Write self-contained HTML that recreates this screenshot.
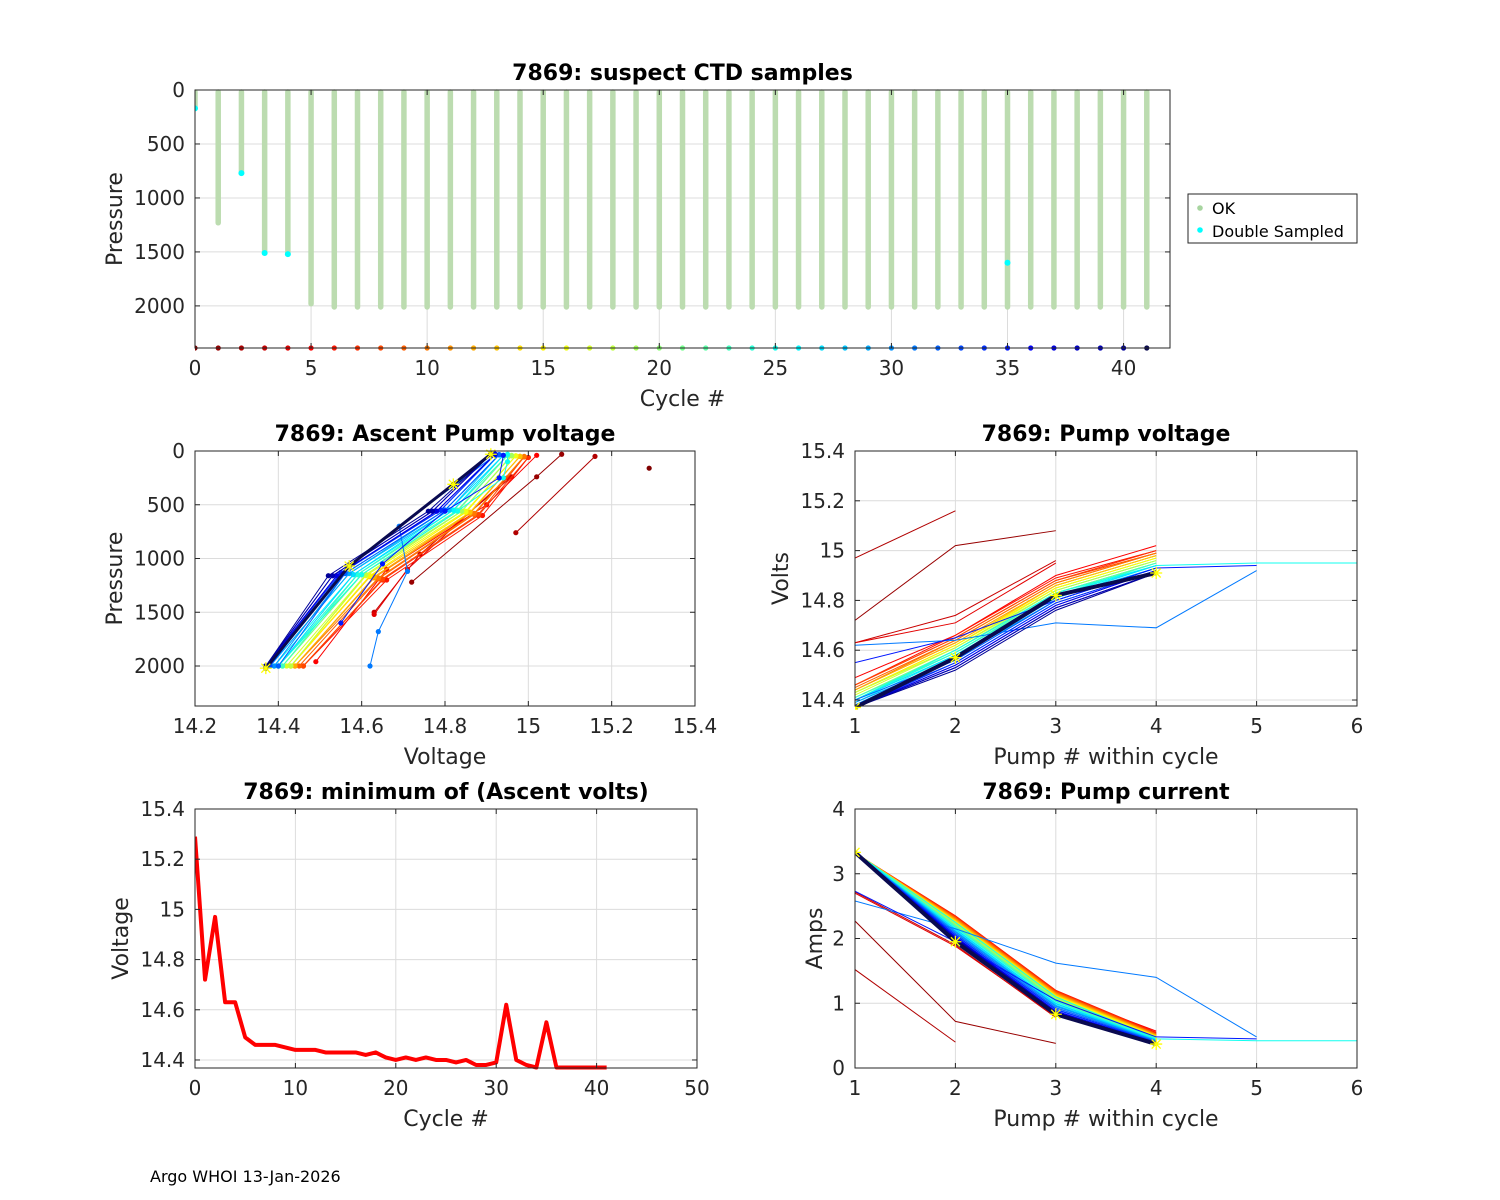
<!DOCTYPE html>
<html><head><meta charset="utf-8"><title>7869 pump diagnostics</title>
<style>
html,body{margin:0;padding:0;background:#fff;}
svg{display:block;font-family:"DejaVu Sans","Liberation Sans",sans-serif;}
.tick{font-size:20px;fill:#262626;}
.lab{font-size:22px;fill:#262626;}
.ttl{font-size:22px;font-weight:bold;fill:#000;}
</style></head>
<body>
<svg id="fig" width="1500" height="1200" viewBox="0 0 1500 1200" xmlns="http://www.w3.org/2000/svg">
<rect width="1500" height="1200" fill="#fff"/>
<text x="150" y="1182" font-size="16" fill="#000">Argo WHOI 13-Jan-2026</text>
</svg>
<script>
// ---- data ----
const cycles = [0,1,2,3,4,5,6,7,8,9,10,11,12,13,14,15,16,17,18,19,20,21,22,23,24,25,26,27,28,29,30,31,32,33,34,35,36,37,38,39,40,41];
const maxPress = [170,1230,770,1510,1520,1980,2010,2010,2010,2010,2010,2010,2010,2010,2010,2010,2010,2010,2010,2010,2010,2010,2010,2010,2010,2010,2010,2010,2010,2010,2010,2010,2010,2010,2010,2010,2010,2010,2010,2010,2010,2010];
const dblCycles = [0,2,3,4,35];
const dblPress = [170,770,1510,1520,1600];
const vols = [
[15.29],
[14.72,15.02,15.08],
[14.97,15.16],
[14.63,14.74,14.96],
[14.63,14.71,14.95],
[14.49,14.66,14.90,15.02],
[14.46,14.66,14.89,15.00],
[14.46,14.65,14.88,15.00],
[14.46,14.65,14.88,14.99],
[14.45,14.64,14.87,14.99],
[14.44,14.64,14.87,14.99],
[14.44,14.63,14.86,14.98],
[14.44,14.63,14.86,14.98],
[14.43,14.62,14.86,14.98],
[14.43,14.62,14.85,14.97],
[14.43,14.62,14.85,14.97],
[14.43,14.61,14.85,14.97],
[14.42,14.61,14.84,14.96],
[14.43,14.61,14.84,14.96],
[14.41,14.60,14.84,14.96],
[14.40,14.60,14.83,14.95],
[14.41,14.60,14.83,14.95],
[14.40,14.59,14.83,14.95],
[14.41,14.59,14.82,14.95],
[14.40,14.59,14.82,14.94],
[14.40,14.60,14.83,14.94,14.95,14.95],
[14.39,14.58,14.82,14.94],
[14.40,14.58,14.81,14.94],
[14.38,14.57,14.81,14.93],
[14.38,14.57,14.80,14.93],
[14.39,14.56,14.80,14.93],
[14.62,14.64,14.71,14.69,14.92],
[14.40,14.56,14.80,14.93],
[14.38,14.55,14.79,14.92],
[14.37,14.55,14.79,14.92],
[14.55,14.65,14.80,14.93,14.94],
[14.37,14.54,14.78,14.92],
[14.37,14.54,14.78,14.92],
[14.37,14.53,14.77,14.91],
[14.37,14.53,14.77,14.91],
[14.37,14.52,14.76,14.91],
[14.37,14.57,14.82,14.91]
];
const press = [
[160],
[1220,240,30],
[760,50],
[1500,960,240],
[1520,1100,250],
[1960,1100,500,40],
[2000,1200,600,60],
[2000,1200,600,60],
[2000,1190,590,55],
[2000,1190,590,55],
[2000,1180,580,50],
[2000,1180,580,50],
[2000,1170,570,50],
[2000,1170,570,50],
[2000,1160,570,45],
[2000,1160,570,45],
[2000,1160,560,45],
[2000,1150,560,45],
[2000,1150,560,45],
[2000,1150,560,40],
[2000,1150,560,40],
[2000,1150,560,40],
[2000,1150,550,40],
[2000,1150,550,40],
[2000,1150,550,40],
[2000,1150,560,250,100,30],
[2000,1150,550,40],
[2000,1150,550,40],
[2000,1140,550,35],
[2000,1140,550,35],
[2000,1140,550,35],
[2000,1680,1120,700,40],
[2000,1140,550,35],
[2000,1140,550,35],
[2000,1130,550,30],
[1600,1050,560,250,40],
[2000,1160,560,30],
[2000,1160,560,30],
[2000,1160,560,30],
[2000,1160,560,30],
[2000,1160,560,30],
[2020,1070,310,30]
];
const amps = [
[3.30],
[2.27,0.72,0.38],
[1.52,0.40],
[2.72,1.90,0.78],
[2.70,1.88,0.80],
[3.30,2.30,1.15,0.57],
[3.32,2.35,1.20,0.55],
[3.32,2.34,1.19,0.54],
[3.32,2.33,1.18,0.53],
[3.32,2.32,1.17,0.52],
[3.32,2.31,1.16,0.52],
[3.33,2.30,1.15,0.51],
[3.33,2.29,1.14,0.50],
[3.33,2.28,1.13,0.50],
[3.33,2.27,1.12,0.49],
[3.33,2.26,1.11,0.49],
[3.33,2.25,1.10,0.48],
[3.33,2.24,1.09,0.48],
[3.33,2.23,1.08,0.47],
[3.33,2.22,1.07,0.47],
[3.33,2.21,1.06,0.46],
[3.33,2.20,1.05,0.46],
[3.33,2.19,1.04,0.45],
[3.33,2.18,1.03,0.45],
[3.33,2.17,1.02,0.44],
[3.33,2.25,1.10,0.45,0.42,0.42],
[3.33,2.15,1.00,0.44],
[3.33,2.14,0.99,0.43],
[3.33,2.12,0.97,0.43],
[3.33,2.11,0.96,0.42],
[3.33,2.10,0.95,0.42],
[2.58,2.15,1.62,1.40,0.48],
[3.33,2.08,0.93,0.41],
[3.33,2.06,0.91,0.40],
[3.33,2.05,0.90,0.40],
[2.73,1.95,1.05,0.48,0.45],
[3.33,2.03,0.88,0.39],
[3.33,2.02,0.87,0.39],
[3.33,2.01,0.86,0.38],
[3.33,2.00,0.86,0.38],
[3.33,1.99,0.85,0.38],
[3.33,1.95,0.83,0.37]
];
const topXTicks = [0,5,10,15,20,25,30,35,40];
const pressTicks = [0,500,1000,1500,2000];
const voltXTicks = [14.2,14.4,14.6,14.8,15,15.2,15.4];
const pumpTicks = [1,2,3,4,5,6];
const voltYTicks = [14.4,14.6,14.8,15,15.2,15.4];
const cycTicks = [0,10,20,30,40,50];
const ampTicks = [0,1,2,3,4];

// ---- helpers ----
const NS = 'http://www.w3.org/2000/svg';
const svg = document.getElementById('fig');
function mk(tag, attrs, parent){
  const e = document.createElementNS(NS, tag);
  for (const k in attrs) e.setAttribute(k, attrs[k]);
  (parent||svg).appendChild(e);
  return e;
}
function jet(t){
  const c = v => Math.max(0, Math.min(1, v));
  const r = c(1.5 - Math.abs(4*t-3)), g = c(1.5 - Math.abs(4*t-2)), b = c(1.5 - Math.abs(4*t-1));
  return 'rgb(' + Math.round(r*255) + ',' + Math.round(g*255) + ',' + Math.round(b*255) + ')';
}
const N = cycles.length;
function colOf(i){ return i === N-1 ? '#0a0a50' : jet(1 - i/(N-1)); }
function fmt(v){ return String(Math.round(v*100)/100); }

let clipId = 0;
function makeAxes(o){
  const g = mk('g', {});
  
  
  const sx = v => o.x0 + (v - o.xd[0]) / (o.xd[1]-o.xd[0]) * (o.x1 - o.x0);
  const sy = o.rev ? (v => o.y0 + (v - o.yd[0]) / (o.yd[1]-o.yd[0]) * (o.y1 - o.y0))
                   : (v => o.y1 - (v - o.yd[0]) / (o.yd[1]-o.yd[0]) * (o.y1 - o.y0));
  const grid = mk('g', {stroke:'#dcdcdc', 'stroke-width':1}, g);
  
  
  o.xt.forEach(v => { const x = sx(v); mk('line', {x1:x, x2:x, y1:o.y0, y2:o.y1}, grid); });
  o.yt.forEach(v => { const y = sy(v); mk('line', {x1:o.x0, x2:o.x1, y1:y, y2:y}, grid); });
  const id = 'clip' + (clipId++);
  const cp = mk('clipPath', {id:id}, g);
  mk('rect', {x:o.x0, y:o.y0-4, width:o.x1-o.x0+2, height:o.y1-o.y0+8}, cp);
  const plot = mk('g', {'clip-path':'url(#'+id+')'}, g);
  
  
  return {g, sx, sy, plot, o};
}
function finishAxes(A){
  const o = A.o, g = A.g, sx = A.sx, sy = A.sy;
  const ax = mk('g', {stroke:'#262626', 'stroke-width':1, fill:'none'}, g);
  
  
  mk('rect', {x:o.x0, y:o.y0, width:o.x1-o.x0, height:o.y1-o.y0}, ax);
  o.xt.forEach(v => { const x = sx(v);
    mk('line', {x1:x, x2:x, y1:o.y1, y2:o.y1-5}, ax);
    mk('line', {x1:x, x2:x, y1:o.y0, y2:o.y0+5}, ax);
    const t = mk('text', {x:x, y:o.y1+27, 'text-anchor':'middle', class:'tick'}, g);
    
    
    t.textContent = fmt(v);
  });
  o.yt.forEach(v => { const y = sy(v);
    mk('line', {x1:o.x0, x2:o.x0+5, y1:y, y2:y}, ax);
    mk('line', {x1:o.x1, x2:o.x1-5, y1:y, y2:y}, ax);
    const t = mk('text', {x:o.x0-10, y:y+7, 'text-anchor':'end', class:'tick'}, g);
    
    
    t.textContent = fmt(v);
  });
  const tt = mk('text', {x:(o.x0+o.x1)/2, y:o.y0-10, 'text-anchor':'middle', class:'ttl'}, g);
  
  
  tt.textContent = o.title;
  const xl = mk('text', {x:(o.x0+o.x1)/2, y:o.y1+58, 'text-anchor':'middle', class:'lab'}, g);
  
  
  xl.textContent = o.xl;
  const yx = o.ylx, yy = (o.y0+o.y1)/2;
  const yl = mk('text', {x:yx, y:yy, 'text-anchor':'middle', class:'lab', transform:'rotate(-90 '+yx+' '+yy+')'}, g);
  
  
  yl.textContent = o.yl;
}
function pts(xs, ys){ return xs.map((x,k)=>x+','+ys[k]).join(' '); }
function star(parent, x, y){
  const s = mk('path', {d:'M'+(x-6)+' '+y+'h12M'+x+' '+(y-6)+'v12M'+(x-4.5)+' '+(y-4.5)+'l9 9M'+(x-4.5)+' '+(y+4.5)+'l9 -9', stroke:'#ffff00', 'stroke-width':1.3, fill:'none'}, parent);
  
  
}

// ---- top: suspect CTD samples ----
(function(){
  const A = makeAxes({name:'ctd-samples-chart', x0:195, x1:1170, y0:90, y1:348, xd:[0,42], yd:[0,2390], rev:true,
    xt:topXTicks, yt:pressTicks, title:'7869: suspect CTD samples', xl:'Cycle #', yl:'Pressure', ylx:122});
  cycles.forEach((c,i) => {
    const x = A.sx(c);
    const b = mk('line', {x1:x, x2:x, y1:A.sy(0)+2, y2:A.sy(maxPress[i]), stroke:'#bcdcb0', 'stroke-width':5.5, 'stroke-linecap':'round'}, A.plot);
    
    
  });
  dblCycles.forEach((c,k) => {
    const d = mk('circle', {cx:A.sx(c), cy:A.sy(dblPress[k]), r:3, fill:'#00ffff'}, A.plot);
    
    
  });
  cycles.forEach((c,i) => {
    const d = mk('circle', {cx:A.sx(c), cy:348, r:2.6, fill:colOf(i)}, A.plot);
    
    
  });
  finishAxes(A);
  const lg = mk('g', {});
  
  
  mk('rect', {x:1188, y:194, width:169, height:49, fill:'#fff', stroke:'#262626', 'stroke-width':1}, lg);
  mk('circle', {cx:1200, cy:208, r:2.8, fill:'#a8d5a0'}, lg);
  mk('circle', {cx:1200, cy:230, r:2.8, fill:'#00ffff'}, lg);
  const t1 = mk('text', {x:1212, y:214, 'font-size':16, fill:'#000'}, lg);
  
  
  t1.textContent = 'OK';
  const t2 = mk('text', {x:1212, y:237, 'font-size':16, fill:'#000'}, lg);
  
  
  t2.textContent = 'Double Sampled';
})();

// ---- mid-left: ascent pump voltage ----
(function(){
  const A = makeAxes({name:'ascent-voltage-chart', x0:195, x1:695, y0:451, y1:706, xd:[14.2,15.4], yd:[0,2372], rev:true,
    xt:voltXTicks, yt:pressTicks, title:'7869: Ascent Pump voltage', xl:'Voltage', yl:'Pressure', ylx:122});
  cycles.forEach((c,i) => {
    const xs = vols[i].map(A.sx), ys = press[i].map(A.sy);
    const last = i === N-1;
    const l = mk('polyline', {points:pts(xs,ys), fill:'none', stroke:colOf(i), 'stroke-width': last?3:1}, A.plot);
    
    
    xs.forEach((x,k) => {
      const d = mk('circle', {cx:x, cy:ys[k], r:2.6, fill:colOf(i)}, A.plot);
      
      
    });
    if (last) xs.forEach((x,k) => star(A.plot, x, ys[k]));
  });
  finishAxes(A);
})();

// ---- mid-right: pump voltage ----
(function(){
  const A = makeAxes({name:'pump-voltage-chart', x0:855, x1:1357, y0:451, y1:706, xd:[1,6], yd:[14.376,15.4], rev:false,
    xt:pumpTicks, yt:voltYTicks, title:'7869: Pump voltage', xl:'Pump # within cycle', yl:'Volts', ylx:788});
  cycles.forEach((c,i) => {
    const xs = vols[i].map((v,k)=>A.sx(k+1)), ys = vols[i].map(A.sy);
    const last = i === N-1;
    const l = mk('polyline', {points:pts(xs,ys), fill:'none', stroke:colOf(i), 'stroke-width': last?4:1}, A.plot);
    
    
    if (last) xs.forEach((x,k) => star(A.plot, x, ys[k]));
  });
  finishAxes(A);
})();

// ---- bottom-left: minimum ascent volts ----
(function(){
  const A = makeAxes({name:'min-voltage-chart', x0:195, x1:697, y0:809, y1:1068, xd:[0,50], yd:[14.368,15.4], rev:false,
    xt:cycTicks, yt:voltYTicks, title:'7869: minimum of (Ascent volts)', xl:'Cycle #', yl:'Voltage', ylx:128});
  const minV = vols.map(v => Math.min.apply(null, v));
  const l = mk('polyline', {points:pts(cycles.map(A.sx), minV.map(A.sy)), fill:'none', stroke:'#ff0000', 'stroke-width':4, 'stroke-linejoin':'round'}, A.plot);
  
  
  finishAxes(A);
})();

// ---- bottom-right: pump current ----
(function(){
  const A = makeAxes({name:'pump-current-chart', x0:855, x1:1357, y0:809, y1:1068, xd:[1,6], yd:[0,4], rev:false,
    xt:pumpTicks, yt:ampTicks, title:'7869: Pump current', xl:'Pump # within cycle', yl:'Amps', ylx:822});
  cycles.forEach((c,i) => {
    const xs = amps[i].map((v,k)=>A.sx(k+1)), ys = amps[i].map(A.sy);
    const last = i === N-1;
    const l = mk('polyline', {points:pts(xs,ys), fill:'none', stroke:colOf(i), 'stroke-width': last?4:1}, A.plot);
    
    
    if (last) xs.forEach((x,k) => star(A.plot, x, ys[k]));
  });
  finishAxes(A);
})();
</script>
</body></html>
